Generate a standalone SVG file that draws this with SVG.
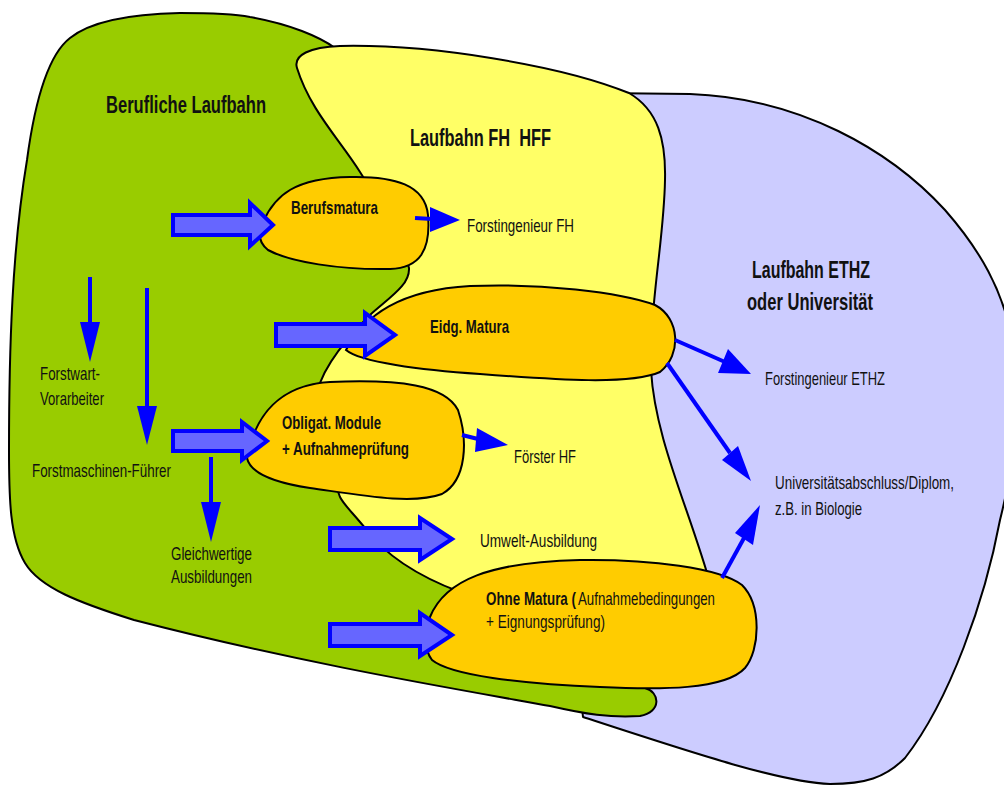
<svg xmlns="http://www.w3.org/2000/svg" width="1004" height="785" viewBox="0 0 1004 785">
<style>
.reg{stroke:#000;stroke-width:2;stroke-linejoin:round}
.blob{fill:#FFCC00;stroke:#000;stroke-width:2}
.t{font-family:"Liberation Sans Narrow","Liberation Sans",Arial,sans-serif;fill:#111;font-size:19px}
.b{font-weight:bold}
.h{font-family:"Liberation Sans Narrow","Liberation Sans",Arial,sans-serif;fill:#111;font-size:24px;font-weight:bold}
.fat{fill:#6666FF;stroke:#0000FF;stroke-width:4;stroke-linejoin:miter}
.ln{stroke:#0000FF;stroke-width:4;fill:none}
.hd{fill:#0000FF}
</style>
<rect width="1004" height="785" fill="#fff"/>
<g id="region-eth">
<path class="reg" fill="#CCCCFF" d="M600,93 L690,94 C800,98 890,150 945,210 C980,250 1003,290 1012,340 C1022,400 1015,460 1000,520 C985,600 950,700 905,758 C885,778 865,784 830,784 C780,782 690,752 583,717 L560,500 Z"/>
<text class="h" x="752" y="278" textLength="118" lengthAdjust="spacingAndGlyphs">Laufbahn ETHZ</text>
<text class="h" x="747" y="310" textLength="126" lengthAdjust="spacingAndGlyphs">oder Universität</text>
</g>
<g id="region-beruf">
<path class="reg" fill="#99CC00" d="M250,17 C290,24 320,37 335,48 L520,150 L600,560 L645,688 C660,692 662,712 640,716 C610,718 585,714 550,706 C450,688 300,663 134,620 C80,603 40,588 25,563 C10,538 9,500 9,450 C9,350 12,250 27,160 C35,100 48,55 70,38 C90,22 130,14 180,13 C210,13 235,14 250,17 Z"/>
<text class="h" x="106" y="113" textLength="160" lengthAdjust="spacingAndGlyphs">Berufliche Laufbahn</text>
</g>
<g id="region-fh">
<path class="reg" fill="#FFFF66" d="M297,68 C293,55 310,47 340,46 C430,44 560,65 629,93 C658,110 666,140 665,180 C664,240 650,300 651,370 C655,440 690,510 712,590 L640,660 L470,600 L460,592 C420,577 385,555 365,528 C352,512 344,505 340,497 C330,470 316,430 316,400 C318,375 340,345 370,315 C390,297 410,285 409,268 C400,235 378,200 360,172 C340,140 310,110 297,68 Z"/>
<text class="h" x="410" y="146" textLength="141" lengthAdjust="spacingAndGlyphs" style="white-space:pre">Laufbahn FH  HFF</text>
</g>
<g id="berufsmatura">
<path class="blob" d="M263,222 C275,195 295,178 350,177 C395,176 425,185 428,215 C431,250 420,268 390,269 C340,270 290,262 268,250 C258,242 258,232 263,222 Z"/>
<text class="t b" x="291" y="214" textLength="87" lengthAdjust="spacingAndGlyphs">Berufsmatura</text>
</g>
<g id="eidg-matura">
<path class="blob" d="M346,350 C365,315 400,290 470,286 C540,283 620,292 655,305 C680,318 682,355 660,372 C630,385 560,380 480,374 C420,370 360,362 346,350 Z"/>
<text class="t b" x="430" y="333" textLength="79" lengthAdjust="spacingAndGlyphs">Eidg. Matura</text>
</g>
<g id="obligat-module">
<path class="blob" d="M247,458 C255,415 280,385 330,382 C400,379 445,385 458,410 C468,440 467,480 442,494 C412,505 360,495 310,488 C270,482 250,472 247,458 Z"/>
<text class="t b" x="282" y="429" textLength="99" lengthAdjust="spacingAndGlyphs">Obligat. Module</text>
<text class="t b" x="282" y="455" textLength="127" lengthAdjust="spacingAndGlyphs">+ Aufnahmeprüfung</text>
</g>
<g id="ohne-matura">
<path class="blob" d="M430,617 C445,580 490,562 580,560 C650,559 720,568 742,585 C762,605 760,650 745,668 C725,690 660,690 600,687 C520,684 450,675 432,660 C424,650 424,630 430,617 Z"/>
<text class="t b" x="486" y="605" textLength="90" lengthAdjust="spacingAndGlyphs">Ohne Matura (</text>
<text class="t" x="578" y="605" textLength="137" lengthAdjust="spacingAndGlyphs">Aufnahmebedingungen</text>
<text class="t" x="486" y="628" textLength="119" lengthAdjust="spacingAndGlyphs">+ Eignungsprüfung)</text>
</g>
<g id="connectors">
<polygon class="fat" points="173,215 250,215 250,203 273,225 250,246 250,235 173,235"/>
<polygon class="fat" points="276,324 365,324 365,313 395,335 365,356 365,346 276,346"/>
<polygon class="fat" points="173,431 242,431 242,422 267,441 242,460 242,451 173,451"/>
<polygon class="fat" points="330,528 420,528 420,518 452,539 420,560 420,550 330,550"/>
<polygon class="fat" points="330,624 420,624 420,613 452,635 420,656 420,646 330,646"/>
<line class="ln" x1="415" y1="218" x2="432" y2="219"/>
<polygon class="hd" points="430,207 460,220 430,232"/>
<line class="ln" x1="462" y1="435" x2="478" y2="439"/>
<polygon class="hd" points="477,428 508,445 475,452"/>
<line class="ln" x1="675" y1="340" x2="725" y2="362"/>
<polygon class="hd" points="728,349 751,374 718,373"/>
<line class="ln" x1="667" y1="363" x2="730" y2="453"/>
<polygon class="hd" points="738,446 751,481 722,460"/>
<line class="ln" x1="722" y1="578" x2="744" y2="538"/>
<polygon class="hd" points="735,533 760,505 753,545"/>
<line class="ln" x1="90" y1="277" x2="90" y2="324"/>
<polygon class="hd" points="80,322 100,322 90,362"/>
<line class="ln" x1="147" y1="288" x2="147" y2="408"/>
<polygon class="hd" points="137,406 157,406 147,445"/>
<line class="ln" x1="211" y1="457" x2="211" y2="504"/>
<polygon class="hd" points="201,502 221,502 211,542"/>
</g>
<g id="forstingenieur-fh"><text class="t" x="467" y="232" textLength="107" lengthAdjust="spacingAndGlyphs">Forstingenieur FH</text></g>
<g id="foerster-hf"><text class="t" x="514" y="463" textLength="62" lengthAdjust="spacingAndGlyphs">Förster HF</text></g>
<g id="umwelt"><text class="t" x="480" y="547" textLength="117" lengthAdjust="spacingAndGlyphs">Umwelt-Ausbildung</text></g>
<g id="forstingenieur-ethz"><text class="t" x="765" y="385" textLength="120" lengthAdjust="spacingAndGlyphs">Forstingenieur ETHZ</text></g>
<g id="universitaet">
<text class="t" x="775" y="489" textLength="179" lengthAdjust="spacingAndGlyphs">Universitätsabschluss/Diplom,</text>
<text class="t" x="775" y="515" textLength="87" lengthAdjust="spacingAndGlyphs">z.B. in Biologie</text>
</g>
<g id="forstwart">
<text class="t" x="40" y="380" textLength="60" lengthAdjust="spacingAndGlyphs">Forstwart-</text>
<text class="t" x="40" y="405" textLength="64" lengthAdjust="spacingAndGlyphs">Vorarbeiter</text>
</g>
<g id="forstmaschinen"><text class="t" x="32" y="477" textLength="139" lengthAdjust="spacingAndGlyphs">Forstmaschinen-Führer</text></g>
<g id="gleichwertige">
<text class="t" x="171" y="560" textLength="81" lengthAdjust="spacingAndGlyphs">Gleichwertige</text>
<text class="t" x="171" y="583" textLength="81" lengthAdjust="spacingAndGlyphs">Ausbildungen</text>
</g>
</svg>
